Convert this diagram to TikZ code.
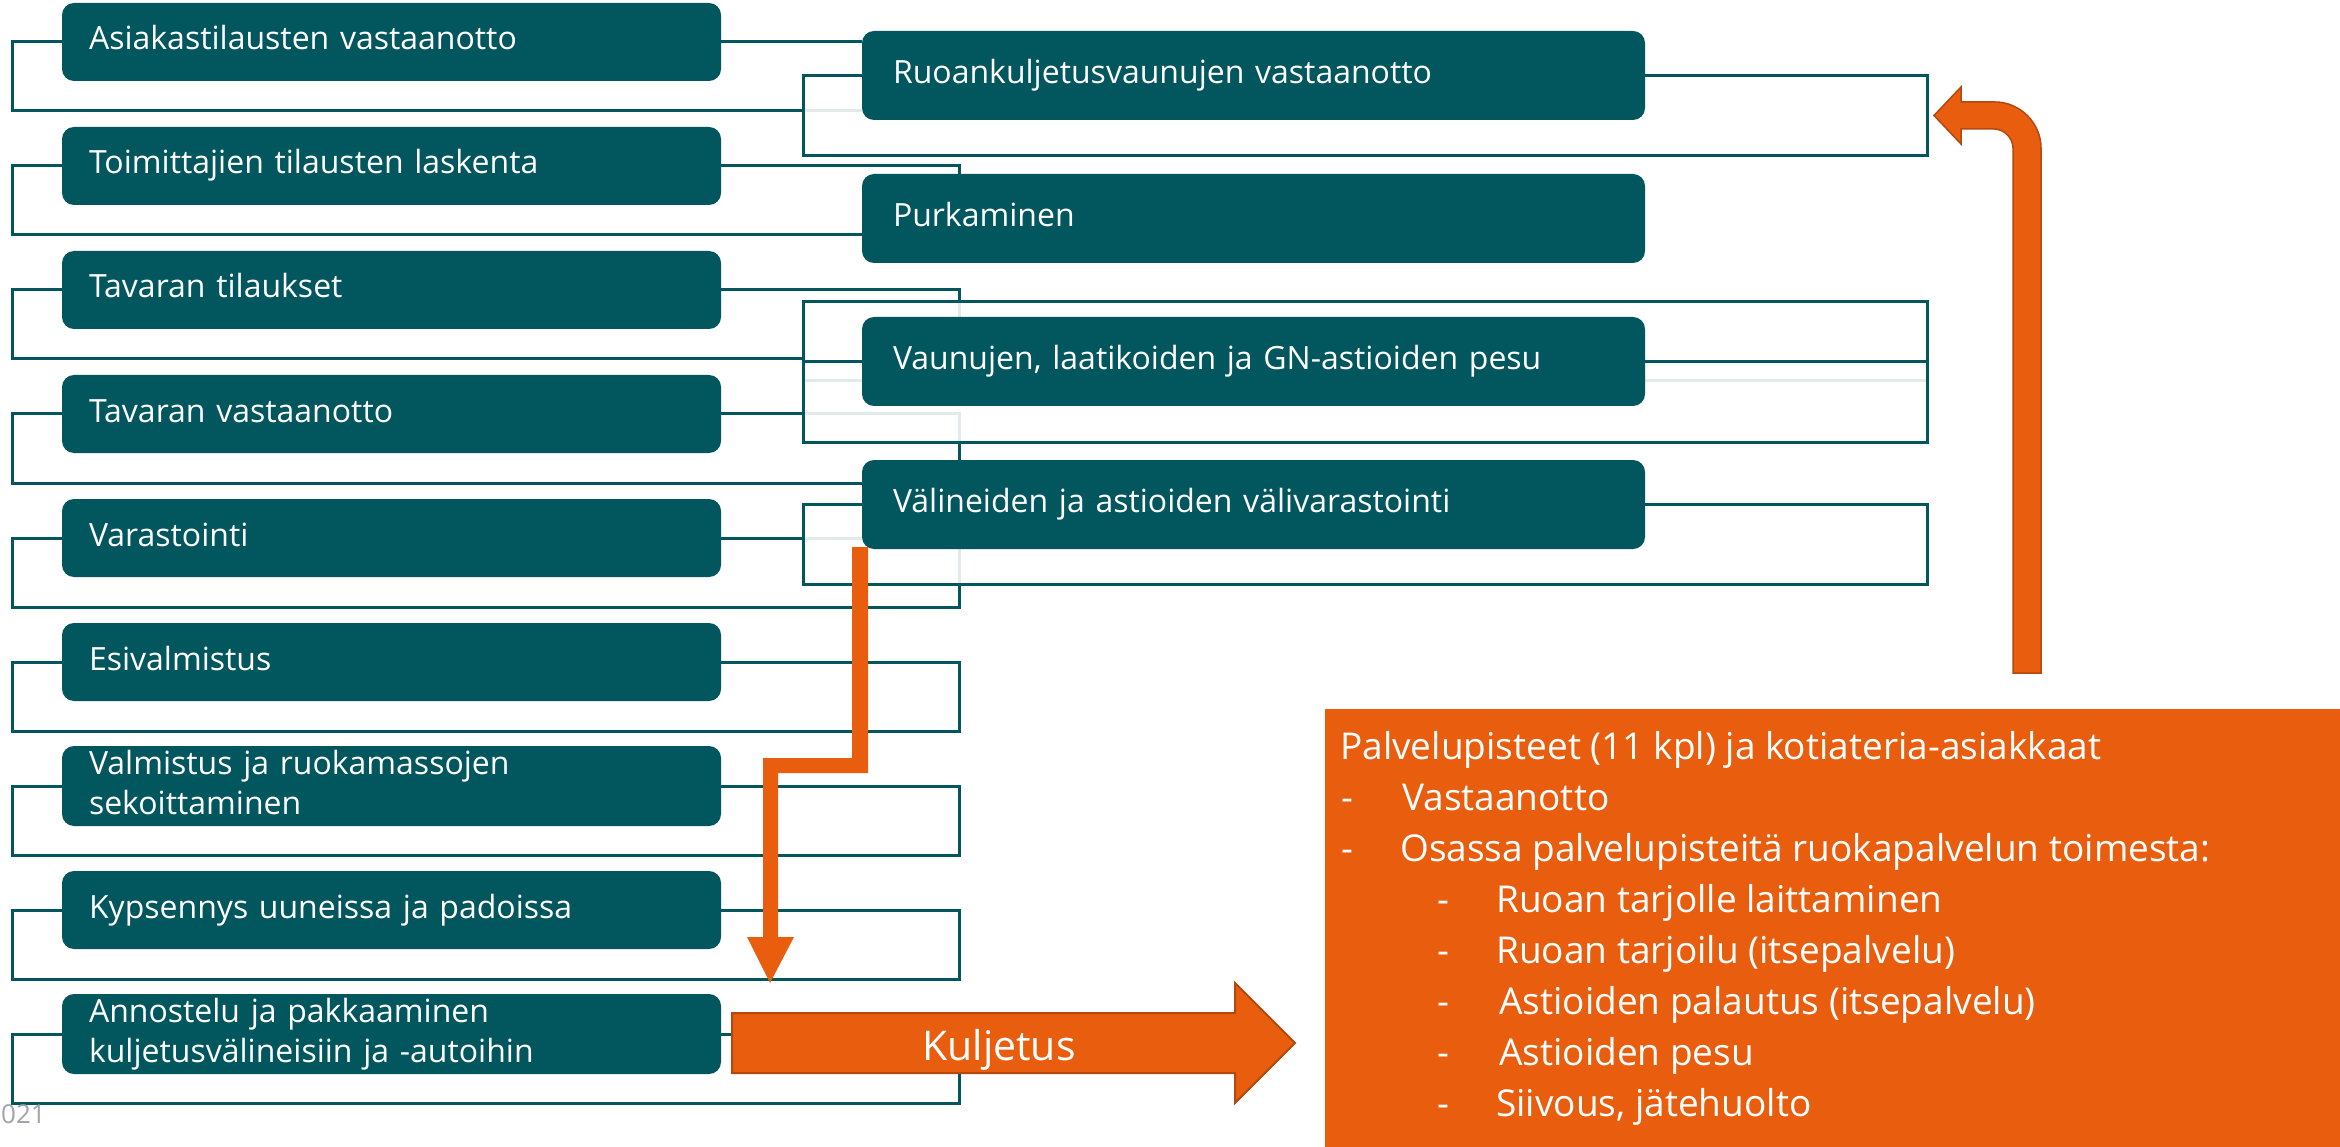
\documentclass[tikz,border=0pt]{standalone}
\usepackage{fontspec}
\setmainfont{Open Sans}
\usetikzlibrary{calc}
\definecolor{teal1}{HTML}{02565E}
\definecolor{org}{HTML}{E85D0E}
\definecolor{orgd}{HTML}{B5480F}
\definecolor{faint}{HTML}{E2EAEC}
\definecolor{grayt}{HTML}{A3A3AD}
\pgfdeclarelayer{bg}
\pgfsetlayers{bg,main}
\begin{document}
\begin{tikzpicture}[x=1pt,y=-1pt,
  lbox/.style={fill=teal1, rounded corners=12pt, minimum height=78pt, text width=605pt, inner xsep=27pt, inner ysep=0pt, align=left, text=white, font=\fontsize{32}{40}\selectfont},
  rbox/.style={fill=teal1, rounded corners=12pt, minimum height=89pt, text width=721pt, inner xsep=31pt, inner ysep=0pt, align=left, text=white, font=\fontsize{32}{40}\selectfont},
  ln/.style={draw=teal1, line width=3pt},
  fl/.style={draw=faint, line width=3pt},
  otext/.style={anchor=base west, inner sep=0pt, text=white, font=\fontsize{37}{44}\selectfont}]
\useasboundingbox (0,0) rectangle (2340,1147);

% left column
\node[lbox] (L1) at (391.5,42) {\strut Asiakastilausten vastaanotto\strut};
\node[lbox] (L2) at (391.5,166) {\strut Toimittajien tilausten laskenta\strut};
\node[lbox] (L3) at (391.5,290) {\strut Tavaran tilaukset\strut};
\node[lbox] (L4) at (391.5,414) {\strut Tavaran vastaanotto\strut};
\node[lbox] (L5) at (391.5,538) {\strut Varastointi\strut};
\node[lbox] (L6) at (391.5,662) {\strut Esivalmistus\strut};
\node[lbox] (L7) at (391.5,786) {\strut Valmistus ja ruokamassojen\\sekoittaminen\strut};
\node[lbox] (L8) at (391.5,910) {\strut Kypsennys uuneissa ja padoissa\strut};
\node[lbox] (L9) at (391.5,1034) {\strut Annostelu ja pakkaaminen\\kuljetusvälineisiin ja -autoihin\strut};

% right column
\node[rbox] (R1) at (1253.5,75.5) {\strut Ruoankuljetusvaunujen vastaanotto\strut};
\node[rbox] (R2) at (1253.5,218.5) {\strut Purkaminen\strut};
\node[rbox] (R3) at (1253.5,361.5) {\strut Vaunujen, laatikoiden ja GN-astioiden pesu\strut};
\node[rbox] (R4) at (1253.5,504.5) {\strut Välineiden ja astioiden välivarastointi\strut};

% helper coordinates
\coordinate (XL) at (12,0);
\coordinate (XA) at (803,0);
\coordinate (XB) at (959,0);
\coordinate (XC) at (1927,0);
\foreach \i in {1,...,9}{\coordinate (B\i) at ($(L\i.west)+(0,69)$);}
\coordinate (U1) at ($(R1.south)+(0,35)$);
\coordinate (T3) at ($(R3.north)+(0,-15)$);
\coordinate (U3) at ($(R3.south)+(0,36)$);
\coordinate (U4) at ($(R4.south)+(0,35)$);

\begin{pgfonlayer}{bg}
\fill[white] (0,0) rectangle (2340,1147);
% faint lines
\draw[fl] (B1 -| XA) -- (B1 -| R1.west);
\draw[fl] ($(R3.west)+(0,19)$) -- ($(R3.west -| XA)+(0,19)$);
\draw[fl] ($(R3.east)+(0,19)$) -- ($(R3.east -| XC)+(0,19)$);
\draw[fl] (T3 -| XB) -- (R3.north -| XB);
\draw[fl] (L4.east -| XA) -- (L4.east -| XB) -- (U3 -| XB);
\draw[fl] (U4 -| XB) -- (R4.south -| XB);
\draw[fl] (L5.east -| XA) -- (L5.east -| R4.west);
% solid connectors
\draw[ln] (L1.east) -- (L1.east -| R1.west);
\draw[ln] (L1.west) -- (L1.west -| XL) |- (B1 -| XA);
\draw[ln] (R1.west) -- (R1.west -| XA) |- (U1 -| XC) |- (R1.east);
\draw[ln] (L2.west) -- (L2.west -| XL) |- (B2 -| R2.west);
\draw[ln] (L2.east) -| ($(R2.north -| XB)+(0,20)$);
\draw[ln] (L3.west) -- (L3.west -| XL) |- (B3 -| XA);
\draw[ln] (L3.east) -| (T3 -| XB);
\draw[ln] (T3 -| XA) rectangle (U3 -| XC);
\draw[ln] (R3.west -| XA) -- (R3.west);
\draw[ln] (R3.east) -- (R3.east -| XC);
\draw[ln] (L4.west) -- (L4.west -| XL) |- (B4 -| R4.west);
\draw[ln] (L4.east) -- (L4.east -| XA);
\draw[ln] (U3 -| XB) -- (R4.north -| XB);
\draw[ln] (R4.west) -- (R4.west -| XA) |- (U4 -| XC) |- (R4.east);
\draw[ln] (L5.west) -- (L5.west -| XL) |- (B5 -| XB) -- (U4 -| XB);
\draw[ln] (L5.east) -- (L5.east -| XA);
\foreach \i in {6,...,9}{\draw[ln] (L\i.east) -| (B\i -| XB) -- (B\i -| XL) |- (L\i.west);}
\end{pgfonlayer}

% orange bent arrow down
\fill[org] (852,547) -- (868,547) -- (868,773) -- (778,773) -- (778,937) -- (794,937) -- (770,983) -- (747,937) -- (763,937) -- (763,758) -- (852,758) -- cycle;

% Kuljetus arrow
\filldraw[fill=org, draw=orgd, line width=2pt] (732,1013) -- (1235,1013) -- (1235,983) -- (1295,1043) -- (1235,1103) -- (1235,1073) -- (732,1073) -- cycle;
\node[anchor=base, inner sep=0pt, text=white, font=\fontsize{41}{48}\selectfont] (K) at (999,1060) {Kuljetus};

% up arrow on the right
\filldraw[fill=org, draw=orgd, line width=1.5pt] (2013,673) -- (2041,673) -- (2041,148) .. controls (2041,123) and (2020,102) .. (1995,102) -- (1961,102) -- (1961,87) -- (1934,115.5) -- (1961,144) -- (1961,129) -- (1994,129) .. controls (2004.5,129) and (2013,138.5) .. (2013,148) -- cycle;

% orange box
\node[fill=org, inner sep=0pt, minimum width=1015pt, minimum height=438pt, anchor=north west] (PB) at (1325,709) {};
\node[otext] (p0) at (1340,759) {Palvelupisteet (11 kpl) ja kotiateria-asiakkaat};
\node[otext] (d1) at (1341,810) {-};
\node[otext] (p1) at (1402,810) {Vastaanotto};
\node[otext] (d2) at (1341,861) {-};
\node[otext] (p2) at (1400,861) {Osassa palvelupisteitä ruokapalvelun toimesta:};
\node[otext] (d3) at (1437,912) {-};
\node[otext] (p3) at (1496,912) {Ruoan tarjolle laittaminen};
\node[otext] (d4) at (1437,963) {-};
\node[otext] (p4) at (1496,963) {Ruoan tarjoilu (itsepalvelu)};
\node[otext] (d5) at (1437,1014) {-};
\node[otext] (p5) at (1499,1014) {Astioiden palautus (itsepalvelu)};
\node[otext] (d6) at (1437,1065) {-};
\node[otext] (p6) at (1499,1065) {Astioiden pesu};
\node[otext] (d7) at (1437,1116) {-};
\node[otext] (p7) at (1496,1116) {Siivous, jätehuolto};

% year fragment
\node[anchor=base west, inner sep=0pt, text=grayt, font=\fontsize{26}{32}\selectfont] (yr) at (1,1123) {021};
\end{tikzpicture}
\end{document}
